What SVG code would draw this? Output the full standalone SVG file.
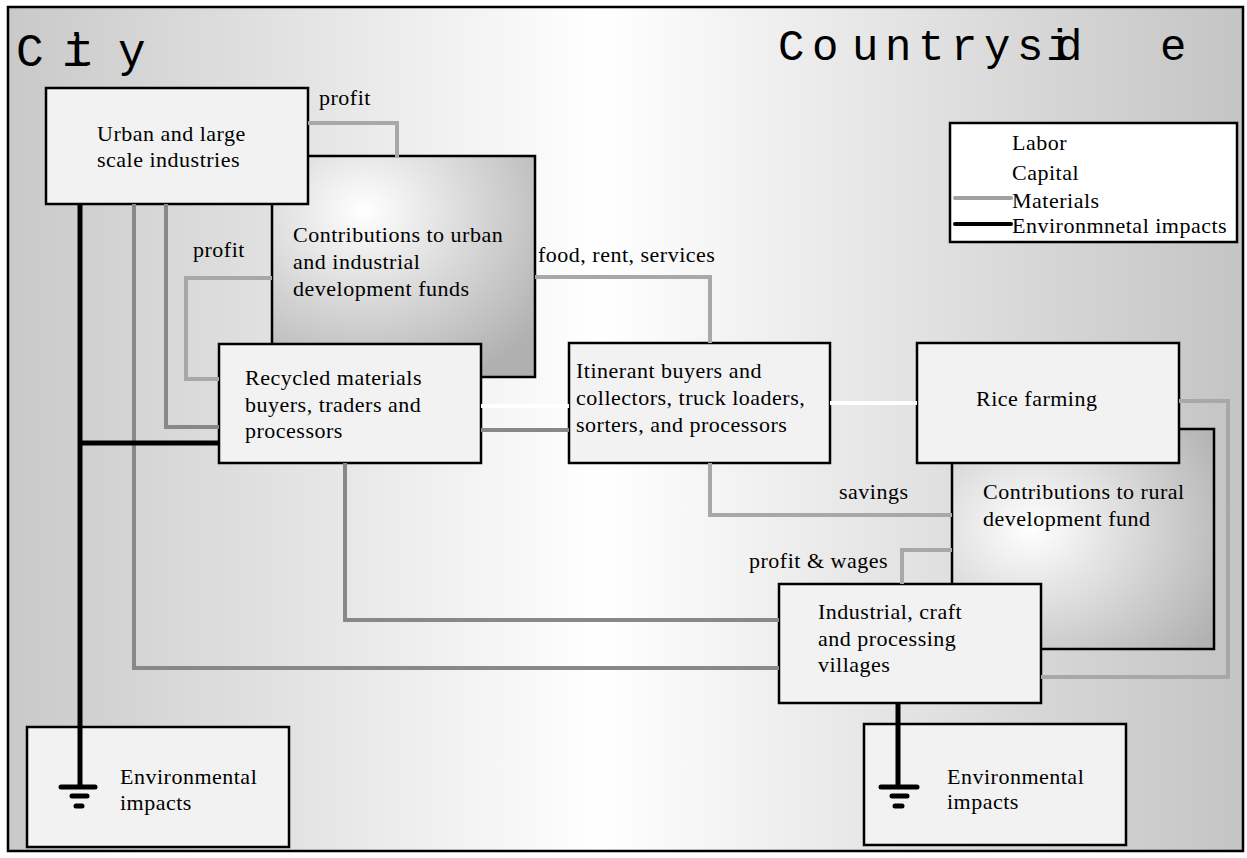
<svg xmlns="http://www.w3.org/2000/svg" width="1247" height="858" viewBox="0 0 1247 858">
<defs>
<linearGradient id="bg" x1="0" y1="0" x2="1" y2="0">
<stop offset="0" stop-color="#c9c9c9"/>
<stop offset="0.48" stop-color="#ffffff"/>
<stop offset="1" stop-color="#c4c4c4"/>
</linearGradient>
<radialGradient id="fundU" cx="0.35" cy="0.25" r="0.85">
<stop offset="0" stop-color="#ffffff"/>
<stop offset="1" stop-color="#b0b0b0"/>
</radialGradient>
<radialGradient id="fundR" cx="0.3" cy="0.45" r="0.85">
<stop offset="0" stop-color="#ffffff"/>
<stop offset="1" stop-color="#b0b0b0"/>
</radialGradient>
<style>
.box{fill:#f2f2f2;stroke:#000;stroke-width:2.5}
.fund{stroke:#000;stroke-width:2.5}
.t{font-family:"Liberation Serif","Times New Roman",serif;font-size:22px;letter-spacing:0.5px;fill:#000}
.title{font-family:"Liberation Mono","Courier New",monospace;fill:#000}
.g{fill:none;stroke:#a8a8a8;stroke-width:4;stroke-linejoin:miter}
.gd{fill:none;stroke:#888888;stroke-width:4}
.w{fill:none;stroke:#ffffff;stroke-width:4}
.k{fill:none;stroke:#000;stroke-width:5}
.gr{stroke:#000;stroke-width:5;stroke-linecap:round}
</style>
</defs>
<rect x="8" y="7" width="1235" height="844" fill="url(#bg)" stroke="#000" stroke-width="2.5"/>
<g id="titles">
<text class="title" font-size="46" x="16 62 67 118" y="66">City</text>
<text class="title" font-size="44" x="778 812 852 885 918 951 984 1017 1046 1056 1160" y="60">Countryside</text>
</g>
<g id="fund-urban"><rect class="fund" x="272" y="156" width="263" height="221" fill="url(#fundU)"/>
<text class="t" x="293" y="242">Contributions to urban</text><text class="t" x="293" y="269">and industrial</text><text class="t" x="293" y="296">development funds</text></g>
<g id="fund-rural"><rect class="fund" x="952" y="429" width="262" height="220" fill="url(#fundR)"/>
<text class="t" x="983" y="499">Contributions to rural</text><text class="t" x="983" y="526">development fund</text></g>
<g id="urban"><rect class="box" x="46" y="88" width="262" height="116"/>
<text class="t" x="97" y="141">Urban and large</text><text class="t" x="97" y="167">scale industries</text></g>
<g id="recycled"><rect class="box" x="219" y="344" width="262" height="119"/>
<text class="t" x="245" y="385">Recycled materials</text><text class="t" x="245" y="412">buyers, traders and</text><text class="t" x="245" y="438">processors</text></g>
<g id="itinerant"><rect class="box" x="569" y="343" width="261" height="120"/>
<text class="t" x="576" y="378">Itinerant buyers and</text><text class="t" x="576" y="405">collectors, truck loaders,</text><text class="t" x="576" y="432">sorters, and processors</text></g>
<g id="rice"><rect class="box" x="917" y="343" width="262" height="120"/>
<text class="t" x="976" y="406">Rice farming</text></g>
<g id="villages"><rect class="box" x="779" y="584" width="262" height="119"/>
<text class="t" x="818" y="619">Industrial, craft</text><text class="t" x="818" y="646">and processing</text><text class="t" x="818" y="672">villages</text></g>
<g id="env-city"><rect class="box" x="27" y="727" width="262" height="120"/>
<text class="t" x="120" y="784">Environmental</text><text class="t" x="120" y="810">impacts</text></g>
<g id="env-country"><rect class="box" x="864" y="724" width="262" height="121"/>
<text class="t" x="947" y="784">Environmental</text><text class="t" x="947" y="809">impacts</text></g>
<g id="legend"><rect x="950" y="123" width="287" height="119" fill="#ffffff" stroke="#000" stroke-width="2.5"/>
<line class="w" x1="955" y1="143" x2="1011" y2="143"/>
<line class="w" x1="955" y1="172" x2="1011" y2="172"/>
<line x1="955" y1="198" x2="1011" y2="198" stroke="#a0a0a0" stroke-width="4" stroke-linecap="round"/>
<line x1="955" y1="224" x2="1011" y2="224" stroke="#000" stroke-width="4" stroke-linecap="round"/>
<text class="t" x="1012" y="150">Labor</text><text class="t" x="1012" y="180">Capital</text><text class="t" x="1012" y="208">Materials</text><text class="t" x="1012" y="233">Environmnetal impacts</text></g>
<g id="connectors">
<polyline class="g" points="308,123 397,123 397,157"/>
<polyline class="g" points="272,278 186,278 186,379 219,379"/>
<polyline class="gd" points="166,204 166,427 219,427"/>
<polyline class="gd" points="134,204 134,668 779,668"/>
<polyline class="gd" points="345,463 345,620 779,620"/>
<polyline class="gd" points="481,430 569,430"/>
<polyline class="w" points="481,406 569,406"/>
<polyline class="w" points="830,403 917,403"/>
<polyline class="g" points="535,277 710,277 710,343"/>
<polyline class="g" points="710,463 710,515 952,515"/>
<polyline class="g" points="952,550 902,550 902,584"/>
<polyline class="g" points="1179,401 1228,401 1228,677 1041,677"/>
<polyline class="k" points="80,204 80,787"/>
<polyline class="k" points="80,443 219,443"/>
<polyline class="k" points="898,703 898,787"/>
<line class="gr" x1="61" y1="787" x2="95" y2="787"/>
<line class="gr" x1="72" y1="796" x2="87" y2="796"/>
<line class="gr" x1="76" y1="806" x2="82" y2="806"/>
<line class="gr" x1="881" y1="787" x2="917" y2="787"/>
<line class="gr" x1="892" y1="796" x2="907" y2="796"/>
<line class="gr" x1="895" y1="806" x2="902" y2="806"/>
</g>
<g id="labels">
<text class="t" x="319" y="105">profit</text>
<text class="t" x="193" y="257">profit</text>
<text class="t" x="538" y="262">food, rent, services</text>
<text class="t" x="839" y="499">savings</text>
<text class="t" x="749" y="568">profit &amp; wages</text>
</g>
</svg>
